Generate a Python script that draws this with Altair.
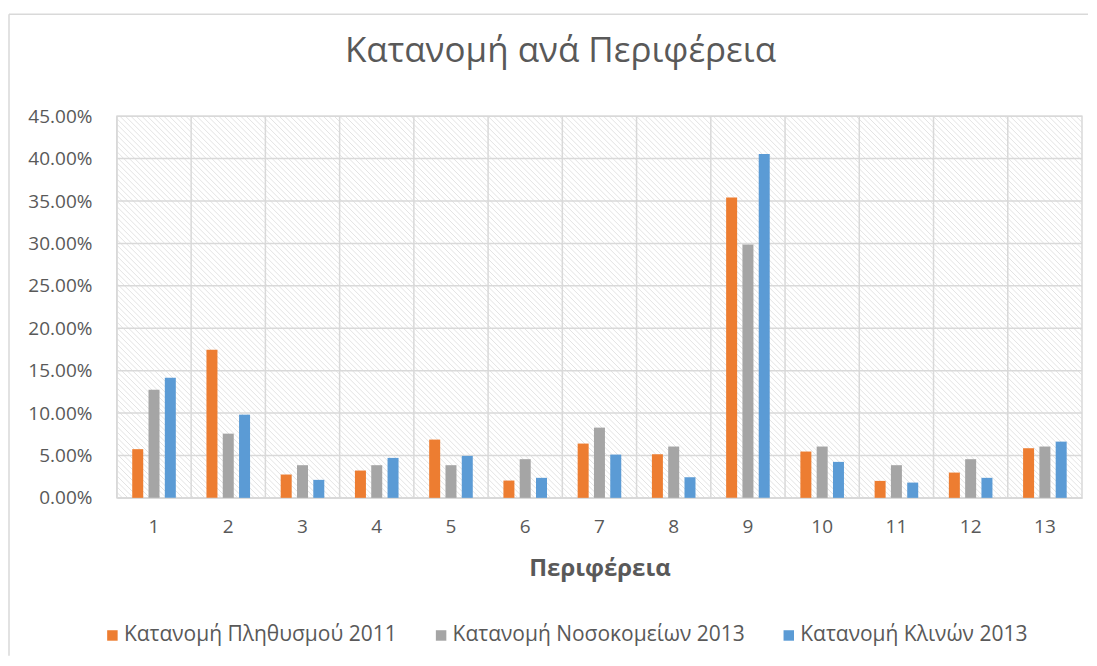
import altair as alt
import pandas as pd
import numpy as np

categories = [str(i) for i in range(1, 14)]
series_names = ["Κατανομή Πληθυσμού 2011", "Κατανομή Νοσοκομείων 2013", "Κατανομή Κλινών 2013"]
pop_2011 = [5.74, 17.47, 2.75, 3.22, 6.87, 2.04, 6.40, 5.14, 35.40, 5.46, 2.00, 2.98, 5.85]
hosp_2013 = [12.76, 7.57, 3.85, 3.85, 3.85, 4.56, 8.28, 6.05, 29.88, 6.05, 3.85, 4.56, 6.05]
beds_2013 = [14.17, 9.81, 2.12, 4.71, 4.95, 2.36, 5.10, 2.43, 40.55, 4.24, 1.80, 2.36, 6.63]
colors = ["#ED7D31", "#A5A5A5", "#5B9BD5"]
y_ticks = [0.0, 0.05, 0.10, 0.15, 0.20, 0.25, 0.30, 0.35, 0.40, 0.45]
chart_title = "Κατανομή ανά Περιφέρεια"

W, H = 966, 382
FONT = "Open Sans"
TXT = "#595959"
GRID = "#d9d9d9"

rows = []
for s, vals in zip(series_names, [pop_2011, hosp_2013, beds_2013]):
    for c, v in zip(categories, vals):
        rows.append({"cat": c, "series": s, "value": v / 100})
df = pd.DataFrame(rows)

# decorative hatch background (pixel space)
step = 5.5
offs = np.arange(-H, W + step, step)
hatch_df = pd.DataFrame({"hx": offs, "hx2": offs + H, "hy": 0.0, "hy2": float(H)})

xscale = alt.Scale(domain=categories, paddingInner=0, paddingOuter=0)
yscale = alt.Scale(domain=[0, 0.45], nice=False)

hatch = alt.Chart(hatch_df).mark_rule(clip=True, color="#dcdcdc", strokeWidth=0.8).encode(
    x=alt.X("hx:Q", scale=None, axis=None),
    x2="hx2:Q",
    y=alt.Y("hy:Q", scale=None, axis=None),
    y2="hy2:Q",
)

hgrid = alt.Chart(pd.DataFrame({"t": y_ticks})).mark_rule(color=GRID, strokeWidth=1.5).encode(
    y=alt.Y("t:Q", scale=yscale, axis=None)
)

vgrid = alt.Chart(pd.DataFrame({"cat": categories})).mark_rule(color=GRID, strokeWidth=1.5).encode(
    x=alt.X("cat:N", scale=xscale, bandPosition=0, axis=None)
)

bars = alt.Chart(df).mark_bar().encode(
    x=alt.X("cat:N", scale=xscale, sort=categories,
            axis=alt.Axis(title="Περιφέρεια", labelAngle=0, ticks=False, domain=True,
                          domainColor=GRID, domainWidth=1.5, grid=False,
                          labelPadding=20, titlePadding=20)),
    xOffset=alt.XOffset("series:N", sort=series_names,
                        scale=alt.Scale(domain=series_names, paddingInner=0.325, paddingOuter=0.94)),
    y=alt.Y("value:Q", scale=yscale,
            axis=alt.Axis(title=None, values=y_ticks, format=".2%", ticks=False, domain=False,
                          grid=False, labelPadding=25)),
    color=alt.Color("series:N", sort=series_names,
                    scale=alt.Scale(domain=series_names, range=colors),
                    legend=alt.Legend(title=None, orient="none", direction="horizontal",
                                      legendX=-15, legendY=509, symbolType="square",
                                      symbolSize=110, symbolStrokeWidth=0,
                                      columnPadding=33, labelOffset=1, labelLimit=400)),
)

title_mark = alt.Chart(pd.DataFrame({"t": [chart_title]})).mark_text(
    font=FONT, fontSize=35, color=TXT, align="center", baseline="alphabetic"
).encode(text="t:N", x=alt.value(444), y=alt.value(-54))

border_top = alt.Chart(pd.DataFrame({"a": [0]})).mark_rule(color=GRID, strokeWidth=1.5).encode(
    x=alt.value(-108), x2=alt.value(972), y=alt.value(-102)
)
border_left = alt.Chart(pd.DataFrame({"a": [0]})).mark_rule(color=GRID, strokeWidth=1.5).encode(
    x=alt.value(-108), y=alt.value(-102), y2=alt.value(540)
)

chart = alt.layer(hatch, hgrid, vgrid, bars, title_mark, border_top, border_left).resolve_scale(
    x="independent", y="independent"
).properties(
    width=W, height=H,
    padding={"top": 5, "left": 0, "right": 0, "bottom": 0},
).configure_view(stroke=GRID, strokeWidth=1.5).configure_axis(
    labelFont=FONT, labelFontSize=19, labelColor=TXT,
    titleFont=FONT, titleFontSize=24, titleColor=TXT, titleFontWeight="bold",
).configure_legend(labelFont=FONT, labelFontSize=21, labelColor=TXT)

chart.save("out.html", embed_options={"renderer": "svg", "actions": False})
